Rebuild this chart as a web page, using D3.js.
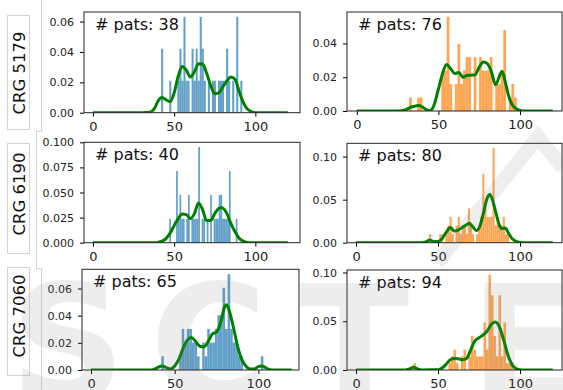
<!DOCTYPE html>
<html>
<head>
<meta charset="utf-8">
<script src="https://cdn.jsdelivr.net/npm/d3@7"></script>
<style>
  body { margin: 0; background: #fff; }
  svg { display: block; font-family: "DejaVu Sans", sans-serif; }
</style>
</head>
<body>
<svg id="chart" width="563" height="390"></svg>
<script>
// ---- data ----
const rowLabels = ['CRG 5179', 'CRG 6190', 'CRG 7060'];
const patCounts = [38, 76, 40, 80, 65, 94];
// histogram bins: 40 bins per panel, start + width
const binStarts = [42, 32, 47, 44.5, 42, 35];
const binWidths = [1.25, 1.65, 1.05, 1.25, 1.525, 1.525];
const xTicks = [0, 50, 100];
const yTicks = [
  [0, 0.02, 0.04, 0.06],
  [0, 0.02, 0.04],
  [0, 0.025, 0.05, 0.075, 0.1],
  [0, 0.05, 0.1],
  [0, 0.02, 0.04, 0.06],
  [0, 0.05, 0.1]
];
const yTickDigits = [2, 2, 3, 2, 2, 2];

const counts5179a = [2,0,0,0,1,0,0,0,1,2, 1,3,1,1,0,2,1,2,1,3, 2,1,0,1,0,1,1,0,1,1, 1,0,2,1,0,1,0,3,0,1];
const counts5179b = [1,0,0,1,1,0,0,0,0,0, 0,0,3,3,7,2,0,2,5,2, 3,4,4,0,4,0,4,3,3,3, 4,0,2,2,3,6,0,1,2,1];
const counts6190a = [1,0,0,0,3,1,2,1,1,0, 1,2,0,1,1,1,1,4,0,1, 1,0,1,0,2,0,1,1,1,2, 2,1,1,1,1,3,0,0,0,1];
const counts6190b = [1,0,0,0,0,1,1,0,1,2, 3,1,0,2,3,1,2,2,1,4, 2,1,0,1,2,3,8,4,3,3, 3,11,2,3,2,2,3,1,1,0];
const counts7060a = [1,0,0,0,0,0,0,1,3,2, 3,3,2,2,1,0,2,1,3,2, 2,3,4,4,6,3,7,3,2,2, 1,1,0,0,0,0,0,0,0,1];
const counts7060b = [1,0,0,0,0,0,0,0,0,0, 0,0,0,0,1,2,3,1,0,2, 3,0,2,5,3,2,2,2,7,3, 14,11,5,2,11,2,7,1,1,1];

// density curves [age, density]
const kde5179a = [[0,0],[30,0],[35,0.0003],[38,0.003],[40,0.0075],[42.5,0.010],[45,0.0085],[47.5,0.0072],[50,0.013],
  [52.5,0.024],[55,0.0305],[57.5,0.028],[60,0.0235],[62.5,0.027],[65,0.0322],[67.5,0.032],[70,0.026],[72.5,0.018],
  [75,0.0125],[77.5,0.013],[80,0.017],[82.5,0.021],[85,0.0235],[87.5,0.022],[90,0.014],[92.5,0.007],[95,0.0025],
  [97.5,0.0007],[100,0],[120,0]];
const kde5179b = [[0,0],[25,0],[30,0.0008],[32.5,0.002],[35,0.0027],[37.5,0.0032],[40,0.0025],[42.5,0.0008],[45,0.0002],
  [47.5,0.004],[50,0.013],[52.5,0.022],[55,0.0275],[57.5,0.025],[60,0.0222],[62.5,0.0228],[65,0.020],[67.5,0.021],
  [70,0.0212],[72.5,0.0215],[75,0.026],[77.5,0.029],[80,0.028],[82.5,0.023],[85,0.0155],[87.5,0.021],[89,0.0236],
  [91,0.017],[93,0.009],[95,0.004],[97.5,0.0015],[100,0.0003],[102,0],[120,0]];
const kde6190a = [[0,0],[38,0],[40,0.0003],[42.5,0.0015],[45,0.004],[47.5,0.0095],[50,0.017],[52.5,0.024],[55,0.0285],
  [57.5,0.028],[60,0.024],[62.5,0.029],[65,0.0395],[67.5,0.033],[70,0.022],[72.5,0.022],[75,0.029],[77.5,0.034],
  [79,0.035],[82.5,0.029],[85,0.019],[87.5,0.011],[90,0.0045],[92.5,0.0015],[95,0.0002],[97,0],[120,0]];
const kde6190b = [[0,0],[40,0],[42.5,0.001],[45,0.003],[47.5,0.0015],[50,0.0015],[52.5,0.005],[55,0.012],[57.5,0.0176],
  [60,0.0135],[62.5,0.015],[65,0.018],[67.5,0.021],[69,0.0225],[71,0.019],[73.5,0.014],[75,0.017],[77.5,0.033],
  [80,0.052],[81.5,0.056],[83,0.051],[85,0.037],[87.5,0.02],[89,0.0165],[91,0.017],[93,0.011],[95,0.005],
  [97.5,0.0015],[100,0.0002],[102,0],[120,0]];
const kde7060a = [[0,0],[36,0],[38.5,0.001],[40,0.002],[42.5,0.003],[45,0.0018],[47.5,0.0008],[50,0.003],[52.5,0.008],
  [55,0.016],[57.5,0.022],[60,0.024],[62.5,0.021],[65,0.0175],[67.5,0.017],[70,0.021],[72.5,0.0265],[75,0.028],
  [77.5,0.035],[80,0.047],[81,0.048],[82.5,0.044],[85,0.032],[87.5,0.018],[90,0.008],[92.5,0.003],[95,0.0008],
  [97.5,0.0008],[100,0.0025],[102,0.003],[104,0.002],[106,0.0006],[108,0],[120,0]];
const kde7060b = [[0,0],[30,0],[32.5,0.001],[35,0.0028],[37.5,0.0012],[40,0.0001],[50,0.0002],[52.5,0.002],[55,0.006],
  [57.5,0.0105],[60,0.0118],[62.5,0.0115],[65,0.0105],[67.5,0.012],[70,0.021],[72.5,0.030],[75,0.033],[77.5,0.036],
  [80,0.040],[82.5,0.047],[85,0.0493],[87.5,0.044],[90,0.031],[92.5,0.016],[95,0.006],[97.5,0.0015],[100,0.0002],
  [102,0],[120,0]];

const allCounts = [counts5179a, counts5179b, counts6190a, counts6190b, counts7060a, counts7060b];
const allKde = [kde5179a, kde5179b, kde6190a, kde6190b, kde7060a, kde7060b];

// ---- layout ----
const boxes = [
  { l: 84, r: 300, t: 12, b: 112.7, xd: [-5.5, 127.5] },
  { l: 347, r: 562, t: 12, b: 111, xd: [-6, 125.7] },
  { l: 84, r: 300, t: 142.3, b: 242.7, xd: [-5.5, 127.5] },
  { l: 347, r: 562, t: 143.3, b: 242.7, xd: [-5.5, 125.6] },
  { l: 82, r: 299, t: 269.3, b: 370, xd: [-5.4, 124.3] },
  { l: 347, r: 562, t: 270, b: 370, xd: [-5.5, 125.6] }
];
const barColors = ['#1f77b4', '#ff7f0e'];

const svg = d3.select('#chart');

// cell borders from the page layout
const border = svg.append('g').attr('fill', 'none').attr('stroke', '#d4d4d4').attr('stroke-width', 1);
border.append('path').attr('d', 'M41.5,0V131.5H36.5V268.5H41.5V390');
[[15, 129], [143, 253], [267, 375]].forEach(function (r) {
  border.append('rect').attr('x', 7.5).attr('y', r[0] + 0.5).attr('width', 22).attr('height', r[1] - r[0]);
});

// row labels
const labelCenters = [73, 194, 316];
rowLabels.forEach(function (lab, i) {
  svg.append('text')
    .attr('transform', 'translate(25,' + labelCenters[i] + ') rotate(-90)')
    .attr('text-anchor', 'middle')
    .attr('font-size', 16.5)
    .attr('fill', '#111')
    .text(lab);
});

boxes.forEach(function (bx, i) {
  const counts = allCounts[i];
  const n = patCounts[i];
  const bw = binWidths[i];
  const bins = counts.map(function (c, k) {
    return { x0: binStarts[i] + k * bw, x1: binStarts[i] + (k + 1) * bw, d: c / (n * bw) };
  });
  const maxBar = d3.max(bins, function (d) { return d.d; });
  const maxKde = d3.max(allKde[i], function (d) { return d[1]; });

  const x = d3.scaleLinear().domain(bx.xd).range([bx.l, bx.r]);
  const y = d3.scaleLinear().domain([0, Math.max(maxBar, maxKde) * 1.05]).range([bx.b, bx.t]);

  const g = svg.append('g');
  g.append('rect').attr('x', bx.l).attr('y', bx.t).attr('width', bx.r - bx.l).attr('height', bx.b - bx.t).attr('fill', '#fff');

  const clip = 'clip' + i;
  g.append('clipPath').attr('id', clip).append('rect')
    .attr('x', bx.l).attr('y', bx.t).attr('width', bx.r - bx.l).attr('height', bx.b - bx.t);

  const plot = g.append('g').attr('clip-path', 'url(#' + clip + ')');
  plot.selectAll('rect.bar')
    .data(bins.filter(function (d) { return d.d > 0; }))
    .enter().append('rect')
    .attr('class', 'bar')
    .attr('x', function (d) { return x(d.x0); })
    .attr('width', function (d) { return x(d.x1) - x(d.x0); })
    .attr('y', function (d) { return y(d.d); })
    .attr('height', function (d) { return y(0) - y(d.d); })
    .attr('fill', barColors[i % 2])
    .attr('fill-opacity', 0.7);

  const line = d3.line()
    .x(function (d) { return x(d[0]); })
    .y(function (d) { return y(d[1]); })
    .curve(d3.curveMonotoneX);
  plot.append('path')
    .datum(allKde[i])
    .attr('d', line)
    .attr('fill', 'none')
    .attr('stroke', 'green')
    .attr('stroke-width', 3)
    .attr('stroke-linejoin', 'round');

  // axes
  const xa = d3.axisBottom(x).tickValues(xTicks).tickSize(4).tickPadding(5).tickFormat(d3.format('d'));
  const gx = g.append('g').attr('transform', 'translate(0,' + bx.b + ')').call(xa);
  gx.select('.domain').remove();
  gx.selectAll('text').attr('font-size', 13).attr('fill', '#222').attr('font-family', '"DejaVu Sans", sans-serif');

  const ya = d3.axisLeft(y).tickValues(yTicks[i]).tickSize(4).tickPadding(6).tickFormat(d3.format('.' + yTickDigits[i] + 'f'));
  const gy = g.append('g').attr('transform', 'translate(' + bx.l + ',0)').call(ya);
  gy.select('.domain').remove();
  gy.selectAll('text').attr('font-size', 11).attr('fill', '#222').attr('font-family', '"DejaVu Sans", sans-serif');

  g.append('rect').attr('x', bx.l).attr('y', bx.t).attr('width', bx.r - bx.l).attr('height', bx.b - bx.t)
    .attr('fill', 'none').attr('stroke', '#222').attr('stroke-width', 1);

  g.append('text')
    .attr('x', bx.l + 11).attr('y', bx.t + 18)
    .attr('font-size', 16).attr('fill', '#111')
    .text('# pats: ' + n);
});

// faint publisher watermark over the figure
const wm = svg.append('g').attr('fill', '#7a7a7a').attr('opacity', 0.13).attr('font-weight', 'bold')
  .attr('font-family', '"DejaVu Sans", sans-serif').attr('font-size', 160);
[['S', 10], ['C', 150], ['T', 300], ['E', 470]].forEach(function (l) {
  wm.append('text').attr('x', l[1]).attr('y', 400).text(l[0]);
});
svg.append('path').attr('d', 'M437,263L538,137L563,168')
  .attr('fill', 'none').attr('stroke', '#7a7a7a').attr('stroke-width', 14).attr('opacity', 0.13);
</script>
</body>
</html>
